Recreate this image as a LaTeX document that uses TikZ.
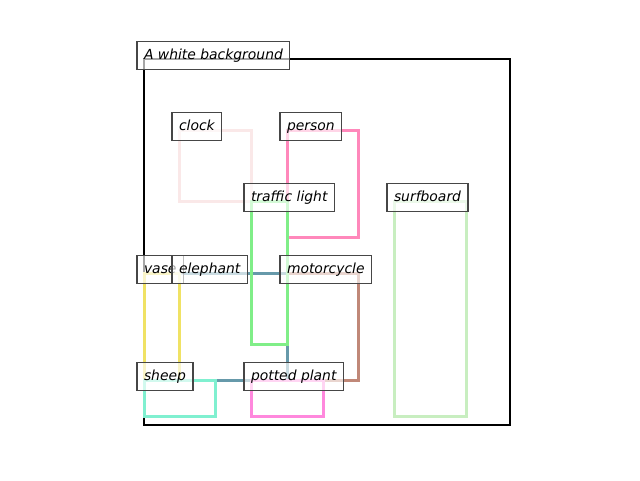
\documentclass[tikz,border=0pt]{standalone}
\usepackage{fontspec}
\newfontfamily\labfont{DejaVu Sans}
\definecolor{cclock}{RGB}{250,232,232}
\definecolor{cperson}{RGB}{255,136,187}
\definecolor{ctraffic}{RGB}{128,238,136}
\definecolor{csurf}{RGB}{200,238,192}
\definecolor{cvase}{RGB}{240,226,100}
\definecolor{celeph}{RGB}{102,153,170}
\definecolor{cmoto}{RGB}{192,136,120}
\definecolor{csheep}{RGB}{128,240,208}
\definecolor{cpotted}{RGB}{255,136,221}
\definecolor{labborder}{RGB}{70,70,70}
\tikzset{
  px/.style={x=1pt,y=-1pt},
  bbox/.style={line width=3pt},
  frame/.style={line width=2.6pt,black},
  lab/.style={anchor=base west,draw=labborder,line width=1.1pt,fill=white,fill opacity=0.65,
    text opacity=1,draw opacity=1,inner xsep=7pt,inner ysep=7pt,outer sep=0pt,
    text height=10.6pt,text depth=3.4pt,
    font=\labfont\itshape\fontsize{13.9}{16}\selectfont}
}
\begin{document}
\begin{tikzpicture}[px]
\useasboundingbox (0,0) rectangle (640,480);
\draw[frame] (144,59) rectangle (510,425);
\draw[bbox,cclock] (179,130) rectangle (251,201);
\draw[bbox,cperson] (287,130) rectangle (358,237);
\draw[bbox,cmoto] (287,273) rectangle (358,380);
\draw[bbox,celeph] (179,273) rectangle (287,380);
\draw[bbox,ctraffic] (251,201) rectangle (287,344);
\draw[bbox,csurf] (394,201) rectangle (466,416);
\draw[bbox,cvase] (144,273) rectangle (179,380);
\draw[bbox,csheep] (144,380) rectangle (215,416);
\draw[bbox,cpotted] (251,380) rectangle (323,416);
\node[lab] (lbg) at (137,59) {A white background};
\node[lab] (lclock) at (172,130) {clock};
\node[lab] (lperson) at (280,130) {person};
\node[lab] (ltraffic) at (244,201) {traffic light};
\node[lab] (lsurf) at (387,201) {surfboard};
\node[lab] (lvase) at (137,273) {vase};
\node[lab] (leleph) at (172,273) {elephant};
\node[lab] (lmoto) at (280,273) {motorcycle};
\node[lab] (lsheep) at (137,380) {sheep};
\node[lab] (lpotted) at (244,380) {potted plant};
\end{tikzpicture}
\end{document}
